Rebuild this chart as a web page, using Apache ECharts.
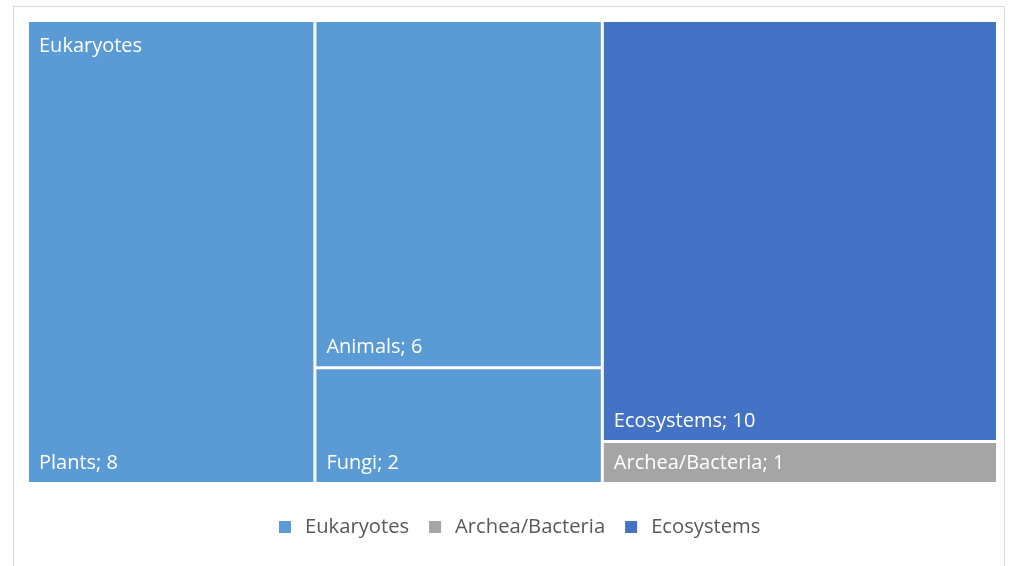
<!DOCTYPE html>
<html>
<head>
<meta charset="utf-8">
<script src="https://cdn.jsdelivr.net/npm/echarts@6/dist/echarts.min.js"></script>
<style>
  html, body { margin: 0; padding: 0; background: #fff; }
  #frame {
    position: absolute; left: 13px; top: 6px; width: 992px; height: 580px;
    border: 1px solid #d9d9d9; box-sizing: border-box;
  }
  #chart { position: absolute; left: 0; top: 0; width: 1013px; height: 566px; }
</style>
</head>
<body>
<div id="frame"></div>
<div id="chart"></div>
<script>
// groups and their colours
const groups = ["Eukaryotes", "Archea/Bacteria", "Ecosystems"];
const groupColors = ["#5B9BD5", "#A5A5A5", "#4472C4"];
// eukaryote subgroups
const eukNames = ["Plants", "Animals", "Fungi"];
const eukValues = [8, 6, 2];
// single-leaf groups
const archeaValue = 1;
const ecoValue = 10;

const font = "'Open Sans', 'Noto Sans', sans-serif";
const sum = (a) => a.reduce((s, v) => s + v, 0);

const treeData = [
  {
    name: groups[0],
    itemStyle: { color: groupColors[0] },
    children: eukNames.map((n, i) => ({ name: n, value: eukValues[i] })),
  },
  { name: groups[2], value: ecoValue, itemStyle: { color: groupColors[2] } },
  { name: groups[1], value: archeaValue, itemStyle: { color: groupColors[1] } },
];

const groupTotals = [sum(eukValues), archeaValue, ecoValue];

const chart = echarts.init(document.getElementById("chart"));
chart.setOption({
  animation: false,
  textStyle: { fontFamily: font },
  legend: {
    top: 512,
    left: 274,
    itemWidth: 12,
    itemHeight: 12,
    itemGap: 20,
    icon: "rect",
    textStyle: { color: "#595959", fontSize: 20.2, fontFamily: font, padding: [0, 0, 0, 9] },
    data: groups,
  },
  graphic: [
    {
      type: "text",
      left: 39,
      top: 36,
      z: 100,
      silent: true,
      style: { text: groups[0], fill: "#fff", fontSize: 20, fontFamily: font },
    },
  ],
  series: [
    {
      type: "treemap",
      left: 29,
      top: 22,
      width: 967,
      height: 460,
      roam: false,
      nodeClick: false,
      breadcrumb: { show: false },
      squareRatio: 1,
      label: {
        show: true,
        position: "insideBottomLeft",
        distance: 0,
        padding: [0, 0, 9, 10],
        color: "#fff",
        fontSize: 20,
        fontFamily: font,
        formatter: (p) => p.name + "; " + p.value,
      },
      upperLabel: { show: false },
      levels: [
        { itemStyle: { borderWidth: 0, gapWidth: 3, borderColor: "#fff" } },
        { itemStyle: { borderWidth: 0, gapWidth: 3, borderColor: "#fff" } },
        { itemStyle: { borderWidth: 0 } },
      ],
      data: treeData,
    },
    {
      type: "pie",
      radius: [0, 0],
      silent: true,
      label: { show: false },
      labelLine: { show: false },
      data: groups.map((g, i) => ({
        name: g,
        value: groupTotals[i],
        itemStyle: { color: groupColors[i] },
      })),
    },
  ],
});
</script>
</body>
</html>
